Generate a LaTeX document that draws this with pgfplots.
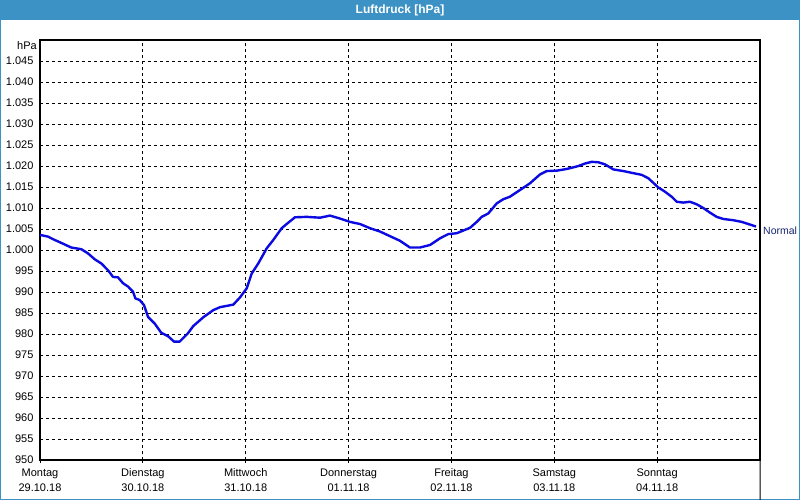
\documentclass[border=0pt]{standalone}
\usepackage{fontspec}
\setmainfont{Liberation Sans}
\usepackage{pgfplots}
\pgfplotsset{compat=1.18}
\definecolor{titleblue}{RGB}{60,146,196}
\definecolor{curveblue}{RGB}{10,10,225}
\definecolor{normalblue}{RGB}{25,40,110}
\begin{document}
\begin{tikzpicture}[x=1pt,y=1pt]
\fill[white] (0,0) rectangle (800,500);
\useasboundingbox (0,0) rectangle (800,500);
\fill[titleblue] (0,480) rectangle (800,500);
\draw[titleblue, line width=1pt] (0.5,0) -- (0.5,480) (799.5,0) -- (799.5,480) (0,0.5) -- (800,0.5);
\node[text=white, font=\fontsize{12}{14}\selectfont\bfseries] at (400,490) {Luftdruck [hPa]};
\begin{axis}[
  at={(40pt,40pt)}, anchor=south west, scale only axis,
  width=720pt, height=420pt,
  xmin=0, xmax=7, ymin=950, ymax=1050,
  clip=false,
  xtick={0,1,2,3,4,5,6},
  xticklabels={{Montag\\29.10.18},{Dienstag\\30.10.18},{Mittwoch\\31.10.18},{Donnerstag\\01.11.18},{Freitag\\02.11.18},{Samstag\\03.11.18},{Sonntag\\04.11.18}},
  ytick={950,955,960,965,970,975,980,985,990,995,1000,1005,1010,1015,1020,1025,1030,1035,1040,1045},
  yticklabels={950,955,960,965,970,975,980,985,990,995,1.000,1.005,1.010,1.015,1.020,1.025,1.030,1.035,1.040,1.045},
  grid=major,
  major grid style={black, dashed, line width=0.9pt},
  axis line style={black, line width=1.4pt},
  tick align=outside, tick pos=left,
  major tick length=3pt,
  xtick style={black, line width=1pt},
  ytick style={draw=none},
  ticklabel style={font=\fontsize{11}{15}\selectfont, text=black},
  xticklabel style={align=center, yshift=-2pt},
]
\addplot[curveblue, line width=2.4pt, line join=round] coordinates {
(0.0,1003.6) (0.078,1003.2) (0.143,1002.4) (0.207,1001.7) (0.304,1000.6)
(0.402,1000.2) (0.467,999.2) (0.532,997.8) (0.596,996.8) (0.661,995.2)
(0.710,993.6) (0.758,993.5) (0.807,992.1) (0.856,991.3) (0.904,990.1)
(0.927,988.5) (0.969,988.1) (1.011,986.9) (1.050,984.1) (1.115,982.5)
(1.179,980.3) (1.244,979.5) (1.303,978.2) (1.358,978.2) (1.439,980.2)
(1.490,981.9) (1.588,984.0) (1.685,985.7) (1.750,986.4) (1.879,987.0)
(1.944,988.7) (2.010,990.9) (2.058,994.4) (2.122,996.8) (2.204,1000.4)
(2.268,1002.4) (2.350,1005.2) (2.398,1006.2) (2.479,1007.8) (2.593,1007.9)
(2.722,1007.7) (2.819,1008.2) (2.917,1007.5) (3.014,1006.7) (3.111,1006.2)
(3.208,1005.2) (3.306,1004.4) (3.403,1003.3) (3.500,1002.2) (3.597,1000.6)
(3.694,1000.6) (3.792,1001.2) (3.889,1002.8) (3.970,1003.8) (4.051,1004.0)
(4.181,1005.3) (4.246,1006.7) (4.294,1007.9) (4.358,1008.7) (4.440,1011.1)
(4.504,1012.1) (4.569,1012.7) (4.667,1014.3) (4.764,1015.9) (4.861,1018.0)
(4.926,1018.8) (5.024,1018.9) (5.121,1019.3) (5.234,1020.0) (5.299,1020.6)
(5.364,1021.0) (5.428,1020.9) (5.493,1020.4) (5.574,1019.2) (5.672,1018.8)
(5.769,1018.3) (5.850,1017.9) (5.914,1017.1) (5.963,1016.0) (6.011,1014.9)
(6.076,1013.9) (6.141,1012.7) (6.190,1011.5) (6.254,1011.3) (6.319,1011.5)
(6.384,1010.9) (6.449,1010.0) (6.514,1008.9) (6.579,1007.9) (6.643,1007.4)
(6.740,1007.1) (6.822,1006.7) (6.886,1006.2) (6.961,1005.6)
};
\draw[black, line width=1pt] (axis cs:7,1005) -- ++(3pt,0);
\node[anchor=west, inner sep=0pt, xshift=3pt, yshift=-2pt, text=normalblue, font=\fontsize{10.5}{13}\selectfont] at (axis cs:7,1005) {Normal};
\node[anchor=north east, inner sep=0pt, xshift=-3pt, yshift=-1pt, font=\fontsize{11}{13}\selectfont] at (axis cs:0,1050) {hPa};
\end{axis}
\end{tikzpicture}
\end{document}
